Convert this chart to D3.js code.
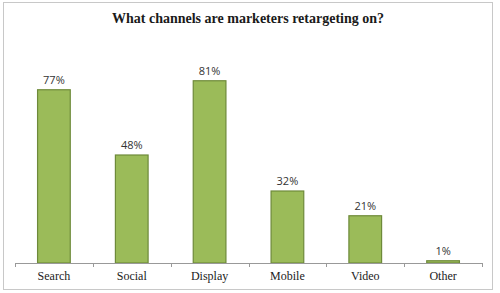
<!DOCTYPE html>
<html lang="en">
<head>
    <style>
        body { margin: 0; background: white; }
        svg { display: block; }
    </style>
    <script src="https://d3js.org/d3.v7.min.js"></script>
</head>
<body>
    <svg id="chart"></svg>
    <script>
        // Chart data
        const channels = ["Search", "Social", "Display", "Mobile", "Video", "Other"];
        const shares = [77, 48, 81, 32, 21, 1];
        const title = "What channels are marketers retargeting on?";

        const width = 500, height = 293;
        const svg = d3.select("#chart")
            .attr("width", width)
            .attr("height", height);

        // outer chart frame
        svg.append("rect")
            .attr("x", 3.5).attr("y", 2.5)
            .attr("width", 489).attr("height", 287)
            .attr("fill", "white")
            .attr("stroke", "#c8c8c8");

        svg.append("text")
            .attr("x", 248).attr("y", 23)
            .attr("text-anchor", "middle")
            .style("font", "bold 14px 'Liberation Serif'")
            .attr("fill", "#1a1a1a")
            .text(title);

        const x = d3.scaleBand()
            .domain(channels)
            .range([15, 482])
            .paddingInner(0.58)
            .paddingOuter(0.29);

        const y = d3.scaleLinear()
            .domain([0, 90])
            .range([263, 60.5]);

        // bars
        svg.selectAll(".bar")
            .data(shares)
            .join("rect")
            .attr("class", "bar")
            .attr("x", (d, i) => x(channels[i]))
            .attr("width", x.bandwidth())
            .attr("y", d => y(d))
            .attr("height", d => y(0) - y(d))
            .attr("fill", "#9bbb59")
            .attr("stroke", "#6e8a3a")
            .attr("stroke-width", 1.2);

        // value labels
        svg.selectAll(".val")
            .data(shares)
            .join("text")
            .attr("class", "val")
            .attr("x", (d, i) => x(channels[i]) + x.bandwidth() / 2)
            .attr("y", d => y(d) - 6)
            .attr("text-anchor", "middle")
            .style("font", "11px 'Open Sans'")
            .attr("fill", "#333")
            .text(d => d + "%");

        // category axis with ticks at band edges
        const axisG = svg.append("g");
        axisG.append("line")
            .attr("x1", 15).attr("x2", 482)
            .attr("y1", 263.5).attr("y2", 263.5)
            .attr("stroke", "#999");
        const edges = d3.range(channels.length + 1).map(i => 15 + i * (467 / channels.length));
        axisG.selectAll(".tk")
            .data(edges)
            .join("line")
            .attr("x1", d => Math.round(d) + 0.5).attr("x2", d => Math.round(d) + 0.5)
            .attr("y1", 263).attr("y2", 267)
            .attr("stroke", "#999");

        axisG.selectAll(".cat")
            .data(channels)
            .join("text")
            .attr("x", d => x(d) + x.bandwidth() / 2)
            .attr("y", 280)
            .attr("text-anchor", "middle")
            .style("font", "12px 'Liberation Serif'")
            .attr("fill", "#222")
            .text(d => d);
    </script>
</body>
</html>
